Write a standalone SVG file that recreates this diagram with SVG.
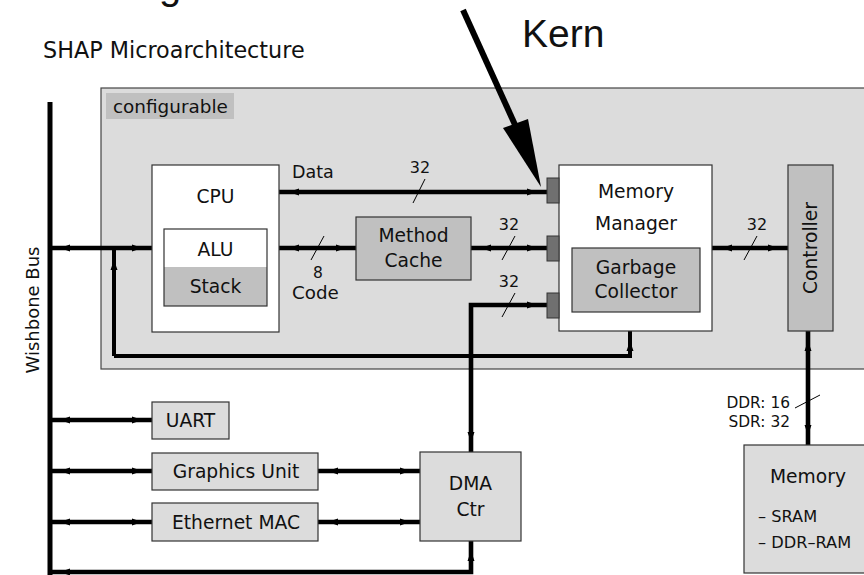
<svg xmlns="http://www.w3.org/2000/svg" width="864" height="575" viewBox="0 0 864 575">
  <style>
    text { font-family: "DejaVu Sans", Verdana, sans-serif; fill: #111; }
    .lbl { font-size: 18.7px; text-anchor: middle; }
    .w { font-size: 16px; text-anchor: middle; }
    .box { stroke: #333; stroke-width: 1.2; }
    .white { fill: #fff; }
    .light { fill: #dcdcdc; }
    .mid { fill: #c0c0c0; }
    .port { fill: #707070; stroke: #333; stroke-width: 1; }
    .bus { fill: none; stroke: #000; stroke-width: 4.6; }
    .dbl { marker-start: url(#ah); marker-end: url(#ah); }
    .slash { stroke: #000; stroke-width: 1; }
  </style>
  <defs>
    <!-- small arrowhead, tip set 10px back from the line end -->
    <marker id="ah" markerUnits="userSpaceOnUse" viewBox="0 0 20 10" markerWidth="20" markerHeight="10" refX="20" refY="5" orient="auto-start-reverse">
      <path d="M0 1.5 L10 5 L0 8.5 z" fill="#000"/>
    </marker>
  </defs>

  <rect width="864" height="575" fill="#fff"/>

  <!-- cut-off heading above the page -->
  <text x="159" y="-1" style="font-family: 'Liberation Sans', Arial, sans-serif; font-size: 40px;">g</text>

  <text x="43" y="58" style="font-size: 22.3px;">SHAP Microarchitecture</text>

  <!-- configurable region -->
  <g id="configurable">
    <rect x="101" y="88" width="800" height="281" fill="#dcdcdc" stroke="#444" stroke-width="1.2"/>
    <rect x="106" y="93" width="128" height="26" fill="#c0c0c0"/>
    <text x="113" y="113" style="font-size: 18.4px;">configurable</text>
  </g>

  <!-- connectors -->
  <g id="connectors">
    <!-- Wishbone bus -->
    <line x1="50" y1="102" x2="50" y2="575" stroke="#000" stroke-width="5"/>
    <path class="bus dbl" d="M50 248 H152"/>
    <path class="bus" d="M114 356 V250" style="stroke-width:4; marker-end:url(#ah)"/>
    <path class="bus" d="M114 356 H630 V331" style="stroke-width:4; marker-end:url(#ah)"/>
    <!-- CPU data / code -->
    <path class="bus dbl" d="M279 192 H547"/>
    <path class="bus dbl" d="M279 248 H356"/>
    <path class="bus dbl" d="M471 248 H547"/>
    <path class="bus dbl" d="M712 248 H788"/>
    <!-- DMA to memory manager -->
    <path class="bus dbl" d="M471 452 V305 H547"/>
    <!-- controller to memory -->
    <path class="bus dbl" d="M808 331 V445"/>
    <!-- peripherals -->
    <path class="bus dbl" d="M50 420 H152"/>
    <path class="bus dbl" d="M50 471 H152"/>
    <path class="bus dbl" d="M50 522 H152"/>
    <path class="bus dbl" d="M318 471 H420"/>
    <path class="bus dbl" d="M318 522 H420"/>
    <path class="bus dbl" d="M50 572 H471 V541"/>

    <!-- bus width marks -->
    <line class="slash" x1="425" y1="179" x2="413" y2="203"/>
    <text class="w" x="420" y="173">32</text>
    <line class="slash" x1="324" y1="236" x2="311" y2="260"/>
    <text class="w" x="318" y="278" style="font-size: 15.5px;">8</text>
    <line class="slash" x1="515" y1="236" x2="502" y2="260"/>
    <text class="w" x="509" y="230">32</text>
    <line class="slash" x1="515" y1="293" x2="502" y2="317"/>
    <text class="w" x="509" y="287">32</text>
    <line class="slash" x1="757" y1="236" x2="744" y2="260"/>
    <text class="w" x="757" y="230">32</text>
    <line class="slash" x1="820" y1="395" x2="795" y2="408"/>
    <text x="790" y="408" style="font-size: 15.4px; text-anchor: end;">DDR: 16</text>
    <text x="790" y="427" style="font-size: 15.4px; text-anchor: end;">SDR: 32</text>

    <text x="292" y="178" style="font-size: 17.5px;">Data</text>
    <text x="292" y="299" style="font-size: 18.3px;">Code</text>
  </g>

  <text transform="translate(39 310) rotate(-90)" class="lbl" style="font-size: 18px;">Wishbone Bus</text>

  <g id="cpu">
    <rect class="box white" x="152" y="165" width="127" height="167"/>
    <text class="lbl" x="215.5" y="203">CPU</text>
    <rect x="164" y="267" width="103" height="39" fill="#c0c0c0"/>
    <rect x="164" y="229" width="103" height="77" fill="none" stroke="#333" stroke-width="1.2"/>
    <text class="lbl" x="215.5" y="256">ALU</text>
    <text class="lbl" x="215.5" y="293">Stack</text>
  </g>

  <g id="method-cache">
    <rect class="box mid" x="356" y="217" width="115" height="63"/>
    <text class="lbl" x="413.5" y="242">Method</text>
    <text class="lbl" x="413.5" y="267">Cache</text>
  </g>

  <g id="memory-manager">
    <rect class="box white" x="559" y="165" width="153" height="166"/>
    <text class="lbl" x="636" y="198">Memory</text>
    <text class="lbl" x="636" y="230">Manager</text>
    <rect class="box mid" x="572" y="248" width="128" height="64"/>
    <text class="lbl" x="636" y="274">Garbage</text>
    <text class="lbl" x="636" y="298">Collector</text>
    <rect class="port" x="547" y="178" width="12" height="25"/>
    <rect class="port" x="547" y="236" width="12" height="25"/>
    <rect class="port" x="547" y="293" width="12" height="25"/>
  </g>

  <g id="controller">
    <rect class="box mid" x="788" y="165" width="45" height="166"/>
    <text class="lbl" transform="translate(817 248) rotate(-90)">Controller</text>
  </g>

  <g id="memory">
    <rect class="box light" x="744" y="445" width="130" height="128"/>
    <text class="lbl" x="808" y="483">Memory</text>
    <text x="758" y="522" style="font-size: 16.2px;">– SRAM</text>
    <text x="758" y="548" style="font-size: 16.2px;">– DDR–RAM</text>
  </g>

  <g id="uart">
    <rect class="box light" x="152" y="402" width="77" height="37"/>
    <text class="lbl" x="190.5" y="427">UART</text>
  </g>

  <g id="graphics-unit">
    <rect class="box light" x="152" y="453" width="166" height="37"/>
    <text class="lbl" x="236" y="478">Graphics Unit</text>
  </g>

  <g id="ethernet-mac">
    <rect class="box light" x="152" y="503" width="166" height="38"/>
    <text class="lbl" x="236" y="529">Ethernet MAC</text>
  </g>

  <g id="dma-ctr">
    <rect class="box light" x="420" y="452" width="101" height="89"/>
    <text class="lbl" x="470.5" y="490">DMA</text>
    <text class="lbl" x="470.5" y="516">Ctr</text>
  </g>

  <!-- Kern pointer -->
  <g id="kern">
    <text x="522" y="47" style="font-family: 'Liberation Sans', Arial, sans-serif; font-size: 39px;">Kern</text>
    <line x1="463" y1="10" x2="516" y2="127" stroke="#000" stroke-width="6"/>
    <polygon points="503,128 528,119 541,187" fill="#000"/>
  </g>
</svg>
